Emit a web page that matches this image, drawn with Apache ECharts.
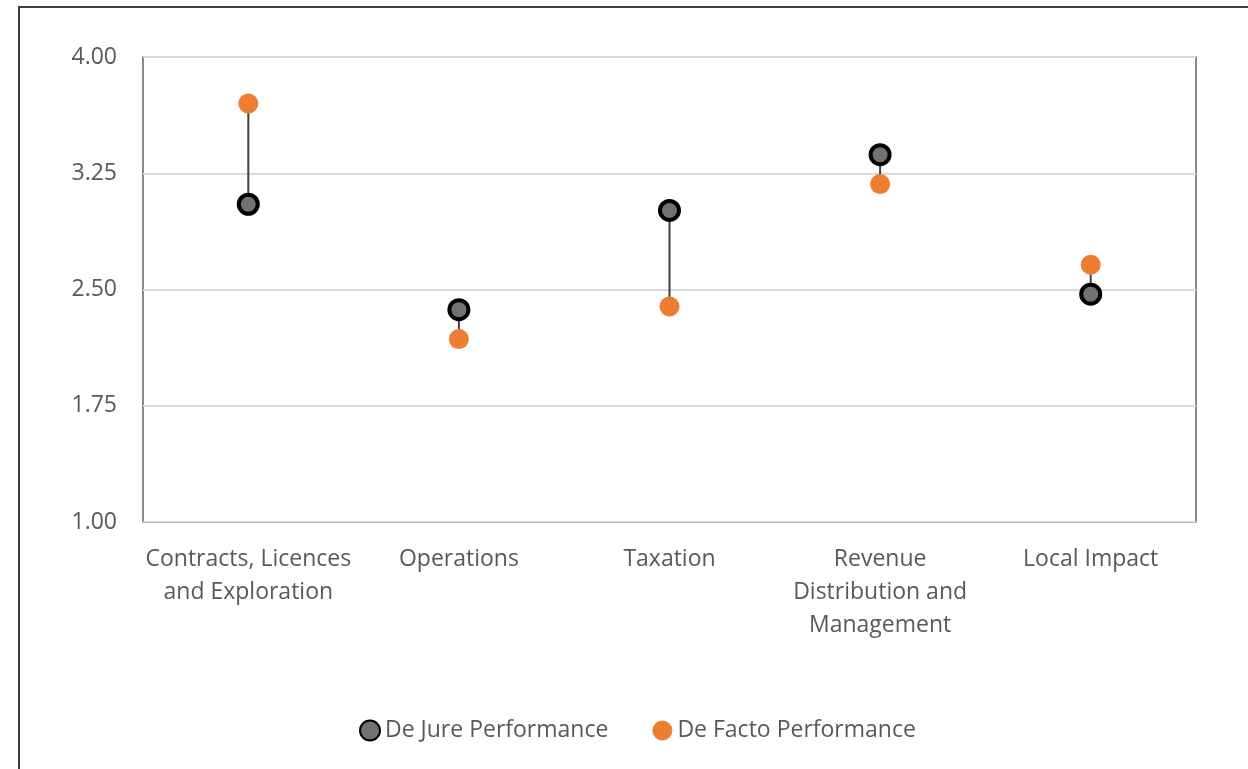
<!DOCTYPE html>
<html>
<head>
<meta charset="utf-8">
<script src="https://cdn.jsdelivr.net/npm/echarts@6/dist/echarts.min.js"></script>
<style>
html,body{margin:0;padding:0;background:#fff;}
#chart{width:1248px;height:769px;}
</style>
</head>
<body>
<div id="chart"></div>
<script>
const categories = ["Contracts, Licences\nand Exploration", "Operations", "Taxation", "Revenue\nDistribution and\nManagement", "Local Impact"];
const deJure = [3.05, 2.37, 3.01, 3.37, 2.47];
const deFacto = [3.70, 2.18, 2.39, 3.18, 2.66];
const yTicks = [1.00, 1.75, 2.50, 3.25, 4.00];

const FONT = "'Open Sans', 'Noto Sans', sans-serif";
const chart = echarts.init(document.getElementById('chart'));
const pairs = categories.map((c, i) => [i, deJure[i], deFacto[i]]);

chart.setOption({
  animation: false,
  textStyle: {fontFamily: FONT},
  graphic: [{
    type: 'polyline',
    shape: {points: [[19, 769], [19, 7], [1248, 7]]},
    style: {stroke: '#404040', lineWidth: 2, fill: null},
    silent: true
  }],
  grid: {left: 143, top: 57, right: 52, bottom: 247, show: true, borderColor: '#8c8c8c', borderWidth: 2},
  legend: {
    top: 714,
    left: 354,
    itemGap: 44,
    itemWidth: 20,
    itemHeight: 20,
    textStyle: {fontSize: 23, color: '#595959', fontFamily: FONT},
    data: ['De Jure Performance', 'De Facto Performance']
  },
  xAxis: {
    type: 'category',
    data: categories,
    boundaryGap: true,
    axisLine: {show: true, lineStyle: {color: '#bfbfbf', width: 1}},
    axisTick: {show: false},
    axisLabel: {color: '#595959', fontSize: 23, lineHeight: 33, margin: 21, interval: 0, fontFamily: FONT},
    splitLine: {show: false}
  },
  yAxis: {
    type: 'value',
    min: 1,
    max: 4,
    interval: 0.75,
    axisLine: {show: false},
    axisTick: {show: false},
    axisLabel: {color: '#595959', fontSize: 23, margin: 26, fontFamily: FONT, formatter: v => v.toFixed(2)},
    splitLine: {lineStyle: {color: '#d9d9d9', width: 2}}
  },
  series: [
    {
      type: 'custom',
      name: 'connector',
      data: pairs,
      z: 1,
      silent: true,
      encode: {x: 0, y: [1, 2]},
      renderItem: function (params, api) {
        const a = api.coord([api.value(0), api.value(1)]);
        const b = api.coord([api.value(0), api.value(2)]);
        return {
          type: 'line',
          shape: {x1: a[0], y1: a[1], x2: b[0], y2: b[1]},
          style: {stroke: '#404040', lineWidth: 2}
        };
      }
    },
    {
      type: 'scatter',
      name: 'De Facto Performance',
      data: deFacto,
      symbol: 'circle',
      symbolSize: 20,
      z: 3,
      itemStyle: {color: '#ed7d31', opacity: 1}
    },
    {
      type: 'scatter',
      name: 'De Jure Performance',
      data: deJure,
      symbol: 'circle',
      symbolSize: 19,
      z: 4,
      itemStyle: {color: '#767171', borderColor: '#000000', borderWidth: 4, opacity: 1}
    }
  ]
});
</script>
</body>
</html>
